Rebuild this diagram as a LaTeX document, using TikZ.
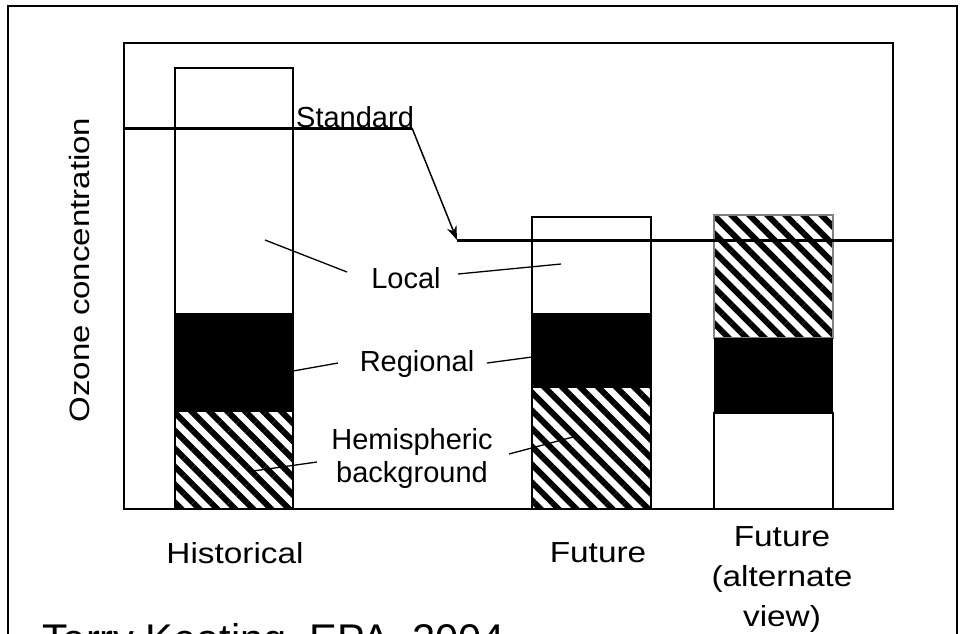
\documentclass[tikz,border=0pt]{standalone}
\usepackage{fontspec}
\setmainfont{Liberation Sans}
\usetikzlibrary{patterns.meta,arrows.meta}

\tikzset{
  hatch/.style={pattern={Lines[angle=-45,distance=12.7pt,line width=6pt]}},
  bar/.style={draw,line width=1.3pt},
  lbl/.style={font=\fontsize{29}{33}\selectfont,inner sep=0pt,align=center},
  cat/.style={font=\fontsize{29}{40}\selectfont,inner sep=0pt,align=center,xscale=1.15},
  leader/.style={line width=1.3pt},
  std/.style={line width=3pt},
}

\begin{document}
\begin{tikzpicture}[x=1pt,y=-1pt]
  \useasboundingbox (0,0) rectangle (965,633);
  \draw[line width=1.3pt] (8,660) -- (8,6) -- (957,6) -- (957,660);
  \draw[line width=1.3pt] (124,43) rectangle (893,509);

  % historical
  \fill[hatch] (175,412) rectangle (293,509);
  \fill (175,313) rectangle (293,412);
  \draw[bar] (175,68) rectangle (293,509);
  % future
  \fill[hatch] (532,388) rectangle (651,509);
  \fill (532,313) rectangle (651,388);
  \draw[bar] (532,217) rectangle (651,509);
  % future, alternate view
  \draw[hatch,draw=gray,line width=1.3pt] (714,215) rectangle (833,338);
  \fill (714,338) rectangle (833,413);
  \draw[bar] (714,413) rectangle (833,509);

  % standard
  \coordinate (s1) at (124,128);
  \coordinate (s2) at (412,128);
  \coordinate (s3) at (457,240);
  \coordinate (s4) at (893,240);
  \draw[std] (s1) -- (s2);
  \draw[line width=1.5pt,-{Stealth[length=14pt,width=10pt]}] (s2) -- (s3);
  \draw[std] (s3) -- (s4);
  \node[lbl,anchor=base west] (standard) at (296,127) {Standard};

  \node[lbl] (local) at (406,278) {Local};
  \node[lbl] (regional) at (417,364) {Regional};
  \node[lbl] (hemi) at (412,458) {Hemispheric\\background};

  \coordinate (lochA) at (265,240);  \coordinate (lochB) at (347,272);
  \coordinate (locfA) at (458,274);  \coordinate (locfB) at (561,264);
  \coordinate (reghA) at (293,371);  \coordinate (reghB) at (338,363);
  \coordinate (regfA) at (487,363);  \coordinate (regfB) at (532,357);
  \coordinate (hemhA) at (253,471);  \coordinate (hemhB) at (317,462);
  \coordinate (hemfA) at (509,454);  \coordinate (hemfB) at (573,437);
  \draw[leader] (lochA) -- (lochB);
  \draw[leader] (locfA) -- (locfB);
  \draw[leader] (reghA) -- (reghB);
  \draw[leader] (regfA) -- (regfB);
  \draw[leader] (hemhA) -- (hemhB);
  \draw[leader] (hemfA) -- (hemfB);

  \node[cat] (hist) at (235,553) {Historical};
  \node[cat] (fut) at (598,553) {Future};
  \node[cat] (alt) at (782,580) {Future\\(alternate\\view)};

  \node[lbl,rotate=90,xscale=1.18,font=\fontsize{28}{33}\selectfont] (ozone) at (79,270) {Ozone concentration};

  \node[inner sep=0pt,anchor=north west,font=\fontsize{41.5}{45}\selectfont] (credit) at (42,623) {Terry Keating, EPA, 2004};
\end{tikzpicture}
\end{document}
